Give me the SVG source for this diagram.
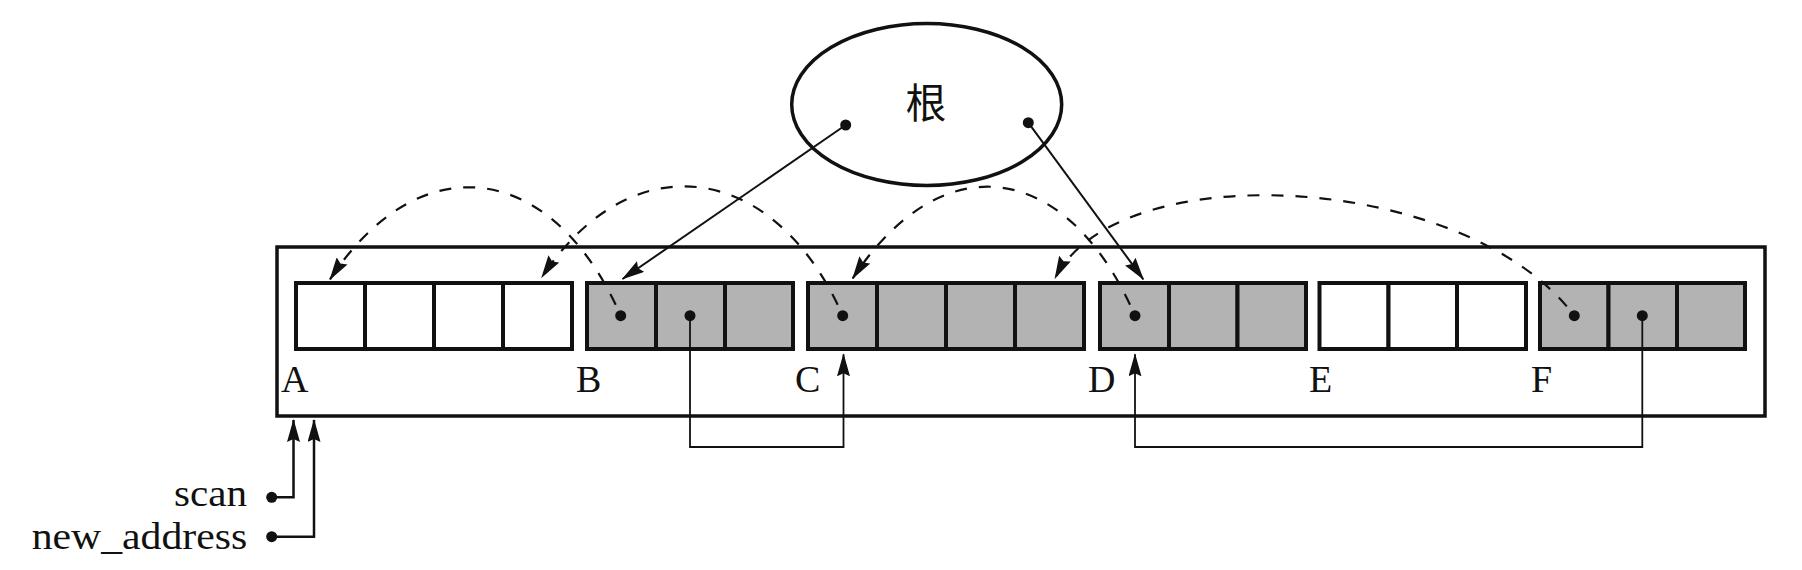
<svg xmlns="http://www.w3.org/2000/svg" width="1802" height="570" viewBox="0 0 1802 570">
  <defs>
    <marker id="arrow" markerUnits="userSpaceOnUse" markerWidth="23" markerHeight="13" viewBox="0 0 23 13" refX="22" refY="6.5" orient="auto">
      <path d="M0,0 L23,6.5 L0,13 L3,6.5 z" fill="#111"/>
    </marker>
    <style>
      .heap{fill:#fff;stroke:#111;stroke-width:3.5}
      .cell{stroke:#111;stroke-width:4}
      .free{fill:#fff}
      .live{fill:#b3b3b3}
      .dot{fill:#111}
      .lbl{font-family:"Liberation Serif","Times New Roman",serif;font-size:38px;fill:#111}
      .ptr{font-family:"Liberation Serif","Times New Roman",serif;font-size:38.5px;fill:#111}
      .root{fill:#fff;stroke:#111;stroke-width:3.5}
      .rtxt{font-family:"Noto Sans CJK SC","Noto Sans CJK JP",sans-serif;font-size:41px;fill:#111}
      .solid{fill:none;stroke:#111;stroke-width:2}
      .thin{fill:none;stroke:#111;stroke-width:1.8}
      .pline{fill:none;stroke:#111;stroke-width:2.5}
      .dash{fill:none;stroke:#111;stroke-width:2.2;stroke-dasharray:12 12;stroke-dashoffset:12}
    </style>
  </defs>

  <g id="heap">
    <rect class="heap" x="277" y="247" width="1488" height="169"/>
  </g>

  <g id="block-A">
    <rect class="cell free" x="296" y="283" width="69" height="66"/>
    <rect class="cell free" x="365" y="283" width="69" height="66"/>
    <rect class="cell free" x="434" y="283" width="69" height="66"/>
    <rect class="cell free" x="503" y="283" width="69" height="66"/>
    <text class="lbl" x="281" y="392">A</text>
  </g>

  <g id="block-B">
    <rect class="cell live" x="587" y="283" width="69" height="66"/>
    <rect class="cell live" x="656" y="283" width="69" height="66"/>
    <rect class="cell live" x="725" y="283" width="68" height="66"/>
    <circle class="dot" cx="620.7" cy="315.7" r="5.5"/>
    <circle class="dot" cx="690" cy="315.7" r="5.5"/>
    <text class="lbl" x="576" y="392">B</text>
  </g>

  <g id="block-C">
    <rect class="cell live" x="808" y="283" width="69" height="66"/>
    <rect class="cell live" x="877" y="283" width="69" height="66"/>
    <rect class="cell live" x="946" y="283" width="69" height="66"/>
    <rect class="cell live" x="1015" y="283" width="69" height="66"/>
    <circle class="dot" cx="842.7" cy="315.7" r="5.5"/>
    <text class="lbl" x="795" y="392">C</text>
  </g>

  <g id="block-D">
    <rect class="cell live" x="1100" y="283" width="69" height="66"/>
    <rect class="cell live" x="1169" y="283" width="68.5" height="66"/>
    <rect class="cell live" x="1237.5" y="283" width="68.5" height="66"/>
    <circle class="dot" cx="1135" cy="315.7" r="5.5"/>
    <text class="lbl" x="1088" y="392">D</text>
  </g>

  <g id="block-E">
    <rect class="cell free" x="1319.5" y="283" width="69" height="66"/>
    <rect class="cell free" x="1388.5" y="283" width="68.5" height="66"/>
    <rect class="cell free" x="1457" y="283" width="69" height="66"/>
    <text class="lbl" x="1309" y="392">E</text>
  </g>

  <g id="block-F">
    <rect class="cell live" x="1540" y="283" width="68.5" height="66"/>
    <rect class="cell live" x="1608.5" y="283" width="68.5" height="66"/>
    <rect class="cell live" x="1677" y="283" width="68" height="66"/>
    <circle class="dot" cx="1574.3" cy="315.7" r="5.5"/>
    <circle class="dot" cx="1642.3" cy="315.7" r="5.5"/>
    <text class="lbl" x="1531" y="392">F</text>
  </g>

  <g id="root">
    <ellipse class="root" cx="926.7" cy="104.5" rx="135" ry="81"/>
    <text class="rtxt" x="926" y="118" text-anchor="middle">根</text>
    <circle class="dot" cx="845.7" cy="125" r="5.5"/>
    <circle class="dot" cx="1028.3" cy="122.7" r="5.5"/>
  </g>

  <g id="pointer-scan">
    <text class="ptr" x="174" y="505.5" textLength="73" lengthAdjust="spacingAndGlyphs">scan</text>
    <circle class="dot" cx="271.7" cy="497.3" r="5.5"/>
  </g>

  <g id="pointer-new_address">
    <text class="ptr" x="31.7" y="548.5" textLength="215.5" lengthAdjust="spacingAndGlyphs">new_address</text>
    <circle class="dot" cx="271.7" cy="536.7" r="5.5"/>
  </g>

  <g id="connectors">
    <path class="dash" d="M620.7,315.7 C554,163 421,141 330,279.3" marker-end="url(#arrow)"/>
    <path class="dash" d="M842.7,315.7 C776,163 633,139.5 541.7,277.3" marker-end="url(#arrow)"/>
    <path class="dash" d="M1135,315.7 C1069,163 944,140 852.7,278.3" marker-end="url(#arrow)"/>
    <path class="dash" d="M1574.3,315.7 C1466,171.7 1118,153.7 1055,278.3" marker-end="url(#arrow)"/>
    <path class="solid" d="M845.7,125 L622.5,279" marker-end="url(#arrow)"/>
    <path class="solid" d="M1028.3,122.7 L1143.3,279.3" marker-end="url(#arrow)"/>
    <path class="thin" d="M690,315.7 V447 H843.5 V354.3" marker-end="url(#arrow)"/>
    <path class="thin" d="M1642.3,315.7 V447 H1135 V354.3" marker-end="url(#arrow)"/>
    <path class="pline" d="M271.7,497.3 H293.5 V420" marker-end="url(#arrow)"/>
    <path class="pline" d="M271.7,536.7 H314 V420" marker-end="url(#arrow)"/>
  </g>
</svg>
